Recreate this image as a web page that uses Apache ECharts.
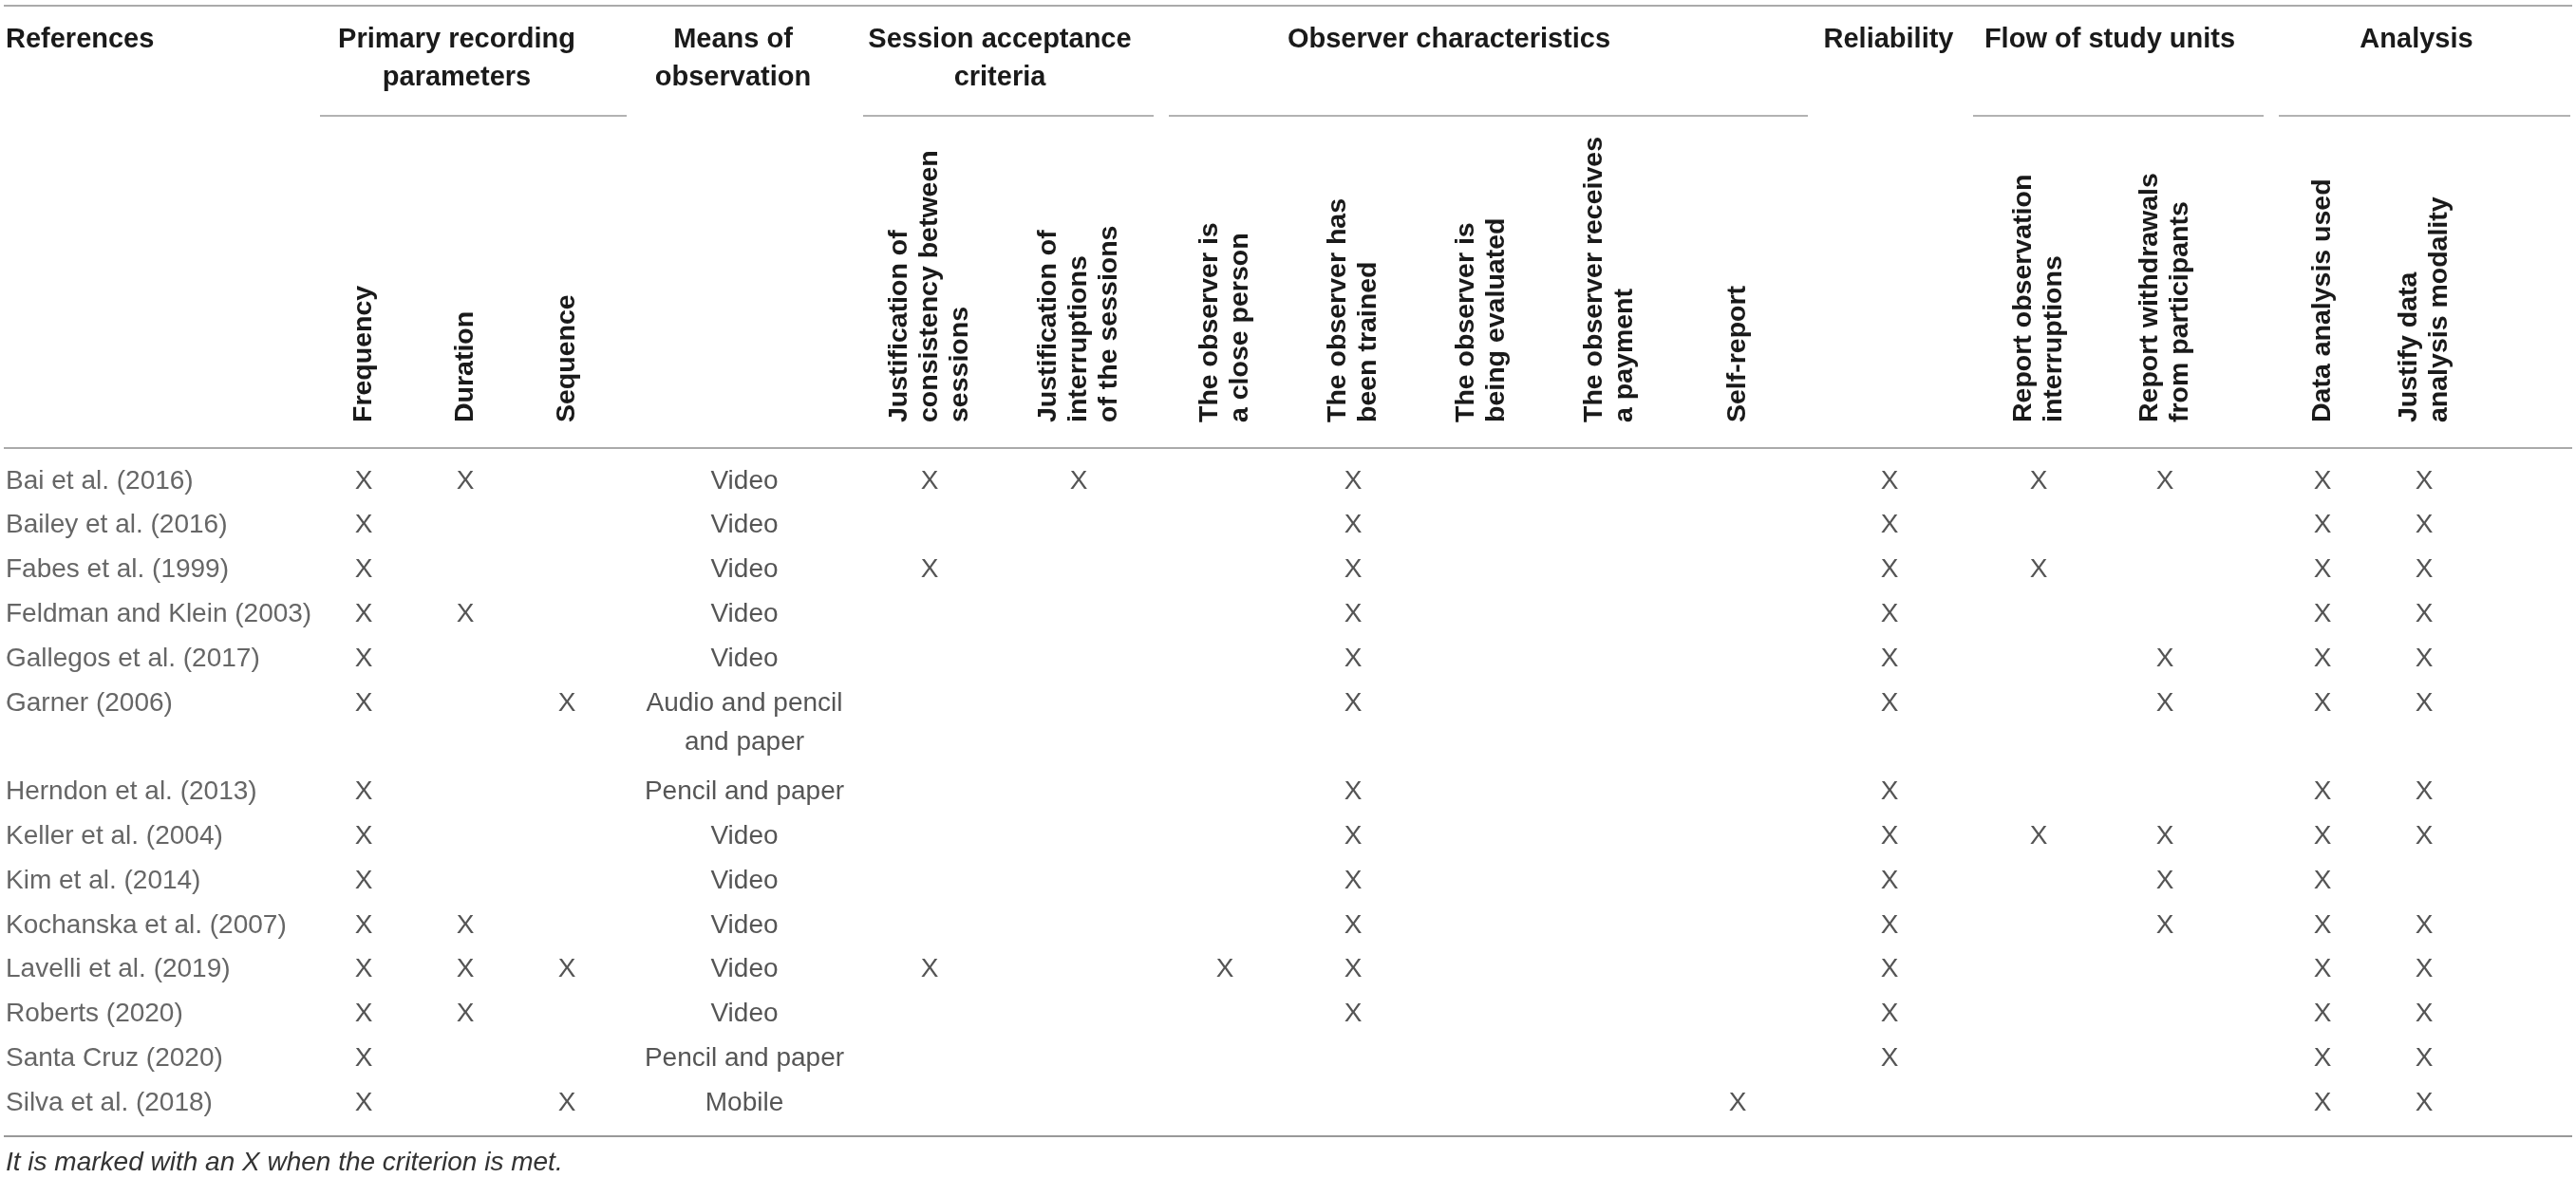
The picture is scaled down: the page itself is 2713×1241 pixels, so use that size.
<!DOCTYPE html>
<html>
<head>
<meta charset="utf-8">
<script src="https://cdn.jsdelivr.net/npm/echarts@6/dist/echarts.min.js"></script>
<style>
  html, body { margin: 0; padding: 0; background: #fff; }
  #chart { width: 2713px; height: 1241px; }
</style>
</head>
<body>
<div id="chart"></div>
<script>
const references = ['Bai et al. (2016)', 'Bailey et al. (2016)', 'Fabes et al. (1999)', 'Feldman and Klein (2003)',
    'Gallegos et al. (2017)', 'Garner (2006)', 'Herndon et al. (2013)', 'Keller et al. (2004)', 'Kim et al. (2014)',
    'Kochanska et al. (2007)', 'Lavelli et al. (2019)', 'Roberts (2020)', 'Santa Cruz (2020)', 'Silva et al. (2018)'];
const means = ['Video', 'Video', 'Video', 'Video', 'Video', 'Audio and pencil\nand paper', 'Pencil and paper',
    'Video', 'Video', 'Video', 'Video', 'Video', 'Pencil and paper', 'Mobile'];

const groupNames = ['Primary recording\nparameters', 'Means of\nobservation', 'Session acceptance\ncriteria',
    'Observer characteristics', 'Reliability', 'Flow of study units', 'Analysis'];
const primaryCols = ['Frequency', 'Duration', 'Sequence'];
const sessionCols = ['Justification of\nconsistency between\nsessions', 'Justification of\ninterruptions\nof the sessions'];
const observerCols = ['The observer is\na close person', 'The observer has\nbeen trained', 'The observer is\nbeing evaluated',
    'The observer receives\na payment', 'Self-report'];
const flowCols = ['Report observation\ninterruptions', 'Report withdrawals\nfrom participants'];
const analysisCols = ['Data analysis used', 'Justify data\nanalysis modality'];

// one string per reference, one char per column, 1 = criterion met (X)
const primaryMarks = ['110', '100', '100', '110', '100', '101', '100', '100', '100', '110', '111', '110', '100', '101'];
const sessionMarks = ['11', '00', '10', '00', '00', '00', '00', '00', '00', '00', '10', '00', '00', '00'];
const observerMarks = ['01000', '01000', '01000', '01000', '01000', '01000', '01000', '01000', '01000', '01000',
    '11000', '01000', '00000', '00001'];
const reliabilityMarks = ['1', '1', '1', '1', '1', '1', '1', '1', '1', '1', '1', '1', '1', '0'];
const flowMarks = ['11', '00', '10', '00', '01', '01', '00', '11', '01', '01', '00', '00', '00', '00'];
const analysisMarks = ['11', '11', '11', '11', '11', '11', '11', '11', '10', '11', '11', '11', '11', '11'];

const footnote = 'It is marked with an X when the criterion is met.';

const FONT = '"Liberation Sans", Arial, Helvetica, sans-serif';
const GRID_TOP = 483.6;
const GRID_BOTTOM = 55.6;
const LINE_H = 41;

// row slots: a reference whose "means" text wraps takes extra slots
const slots = [];
const slotOf = [];
references.forEach((r, i) => {
    slotOf.push(slots.length);
    slots.push(r);
    for (let k = 1; k < means[i].split('\n').length; k++) slots.push('');
});

// column groups, left to right
const groups = [
    { cols: primaryCols, marks: primaryMarks, left: 329.5, width: 321, head: 481 },
    { cols: [''], means: true, left: 684, width: 200, head: 772 },
    { cols: sessionCols, marks: sessionMarks, left: 900.5, width: 314, head: 1053 },
    { cols: observerCols, marks: observerMarks, left: 1222.5, width: 675, head: 1526 },
    { cols: [''], marks: reliabilityMarks, left: 1915, width: 150, head: 1989 },
    { cols: flowCols, marks: flowMarks, left: 2080.5, width: 266, head: 2222 },
    { cols: analysisCols, marks: analysisMarks, left: 2392.5, width: 214, head: 2545 },
];
const underlines = [[337, 660], [909, 1215], [1231, 1904], [2078, 2384], [2400, 2707]];

const grid = groups.map(g => ({ left: g.left, width: g.width, top: GRID_TOP, bottom: GRID_BOTTOM }));

const xAxis = groups.map((g, gi) => ({
    type: 'category',
    gridIndex: gi,
    position: 'top',
    data: g.cols,
    axisLine: { show: false },
    axisTick: { show: false },
    splitLine: { show: false },
    axisLabel: {
        interval: 0, rotate: -90, margin: 38.6,
        fontFamily: FONT, fontSize: 28.5, fontWeight: 'bold', lineHeight: 32, color: '#1a1a1a',
    },
}));

const yAxis = groups.map((g, gi) => ({
    type: 'category',
    gridIndex: gi,
    data: slots,
    inverse: true,
    axisLine: { show: false },
    axisTick: { show: false },
    splitLine: { show: false },
    axisLabel: gi === 0
        ? { show: true, interval: 0, align: 'left', margin: g.left - 6, fontFamily: FONT, fontSize: 28, color: '#666' }
        : { show: false },
}));

const cellLabel = { show: true, position: 'inside', fontFamily: FONT, fontSize: 28, color: '#2b2b2b' };

const series = groups.map((g, gi) => {
    if (g.means) {
        return {
            type: 'scatter', xAxisIndex: gi, yAxisIndex: gi, symbolSize: 1,
            itemStyle: { color: 'rgba(0,0,0,0)' },
            label: { ...cellLabel, formatter: '{b}', lineHeight: LINE_H },
            data: means.map((m, i) => ({
                name: m,
                value: [0, slotOf[i]],
                label: { offset: [0, (m.split('\n').length - 1) * LINE_H / 2] },
            })),
        };
    }
    const data = [];
    g.marks.forEach((row, i) => {
        row.split('').forEach((c, j) => { if (c === '1') data.push([j, slotOf[i]]); });
    });
    return {
        type: 'scatter', xAxisIndex: gi, yAxisIndex: gi, symbolSize: 1,
        itemStyle: { color: 'rgba(0,0,0,0)' },
        label: { ...cellLabel, formatter: 'X' },
        data,
    };
});

const headStyle = { fontFamily: FONT, fontSize: 29, fontWeight: 'bold', fill: '#1a1a1a', lineHeight: 40 };
const rule = (x1, x2, y, w, c) => ({
    type: 'line', silent: true,
    shape: { x1, y1: y, x2, y2: y },
    style: { stroke: c, lineWidth: w },
});

const graphic = [
    rule(4, 2709, 6, 2.2, '#aaa'),
    rule(4, 2709, 472, 2.2, '#aaa'),
    rule(4, 2709, 1197, 1.8, '#999'),
    ...underlines.map(u => rule(u[0], u[1], 122, 1.2, '#666')),
    { type: 'text', x: 6, y: 22, style: { ...headStyle, text: 'References', align: 'left', verticalAlign: 'top' } },
    ...groups.map((g, gi) => ({
        type: 'text', x: g.head, y: 22,
        style: { ...headStyle, text: groupNames[gi], align: 'center', verticalAlign: 'top' },
    })),
    {
        type: 'text', x: 6, y: 1211,
        style: { text: footnote, fontFamily: FONT, fontSize: 28, fontStyle: 'italic', fill: '#333', verticalAlign: 'top' },
    },
];

const chart = echarts.init(document.getElementById('chart'));
chart.setOption({
    animation: false,
    backgroundColor: '#fff',
    grid, xAxis, yAxis, series, graphic,
});
</script>
</body>
</html>
